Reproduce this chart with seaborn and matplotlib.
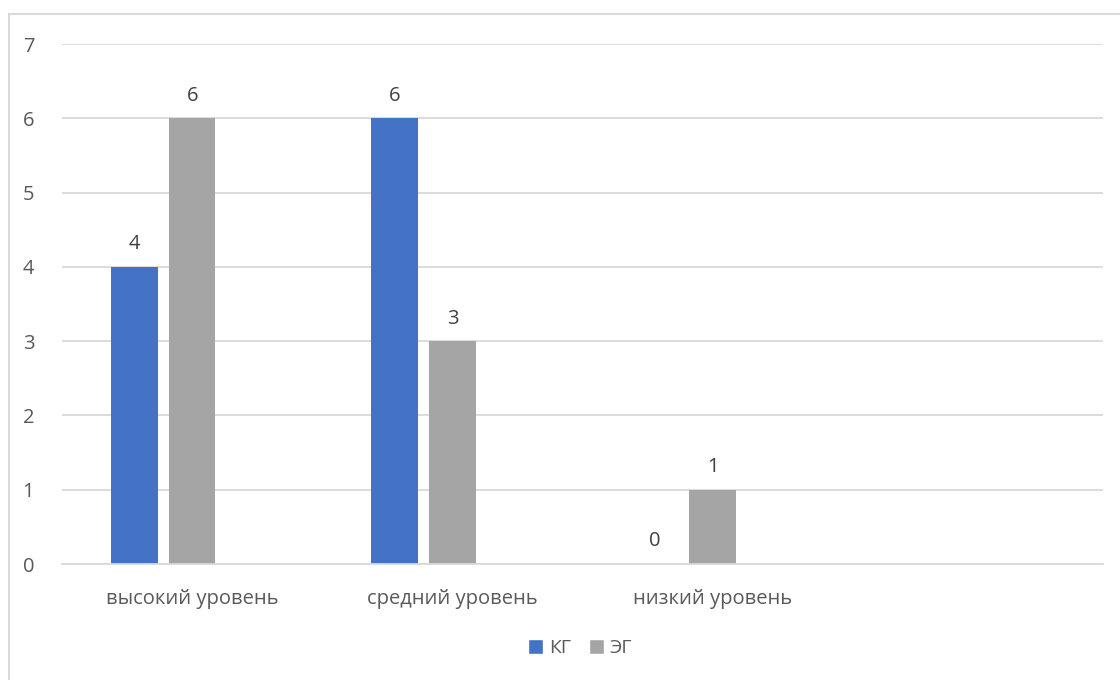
import pandas as pd
import matplotlib
matplotlib.use("Agg")
import matplotlib.pyplot as plt
import seaborn as sns
from matplotlib.patches import Rectangle, Patch

# -----------------------------
# DATA
# -----------------------------
categories = ["высокий уровень", "средний уровень", "низкий уровень", ""]
groups = ["КГ", "ЭГ", "Ряд3"]          # third series is empty in the source chart
kg_values = [4, 6, 0]
eg_values = [6, 3, 1]

colors = {"КГ": "#4472C4", "ЭГ": "#A5A5A5", "Ряд3": "#FFC000"}
text_color = "#595959"
grid_color = "#D9D9D9"

rows = []
for cat, v in zip(categories, kg_values):
    rows.append({"level": cat, "group": "КГ", "value": v})
for cat, v in zip(categories, eg_values):
    rows.append({"level": cat, "group": "ЭГ", "value": v})
df = pd.DataFrame(rows)

sns.set_style("white")
plt.rcParams["font.family"] = ["Open Sans", "DejaVu Sans"]

fig = plt.figure(figsize=(11.2, 6.8), dpi=100)
ax = fig.add_axes([62 / 1120, 1 - 564 / 680, (1103 - 62) / 1120, (564 - 44) / 680])

sns.barplot(data=df, x="level", y="value", hue="group", order=categories,
            hue_order=groups, palette=colors, width=0.665, gap=0.19,
            errorbar=None, ax=ax, legend=False, saturation=1, linewidth=0)

for cont in ax.containers:
    ax.bar_label(cont, fmt="%d", padding=9, fontsize=14.5, color="#404040")

ax.set_ylim(0, 7)
ax.set_yticks(range(0, 8))
ax.yaxis.grid(True, color=grid_color, linewidth=1.3)
ax.set_axisbelow(True)
for side in ["top", "right", "left"]:
    ax.spines[side].set_visible(False)
ax.spines["bottom"].set_color(grid_color)
ax.spines["bottom"].set_linewidth(1.3)
ax.tick_params(axis="y", length=0, pad=20, labelsize=14.5, labelcolor=text_color)
ax.tick_params(axis="x", length=0, pad=18, labelsize=14.5, labelcolor=text_color)
ax.set_xlabel("")
ax.set_ylabel("")

handles = [Patch(facecolor=colors[g], label=g) for g in groups[:2]]
fig.legend(handles=handles, loc="center", bbox_to_anchor=(580 / 1120, 1 - 648 / 680),
           ncol=2, frameon=False, fontsize=14, labelcolor=text_color,
           handlelength=0.8, handleheight=0.8, handletextpad=0.3, columnspacing=0.9)

# chart area border (only top/left visible in the crop)
fig.patches.append(Rectangle((9 / 1120, -0.1), 1.2, 1.1 - 14 / 680, transform=fig.transFigure,
                             fill=False, edgecolor=grid_color, linewidth=1.5))

fig.savefig("out.png", dpi=100, facecolor="white")
